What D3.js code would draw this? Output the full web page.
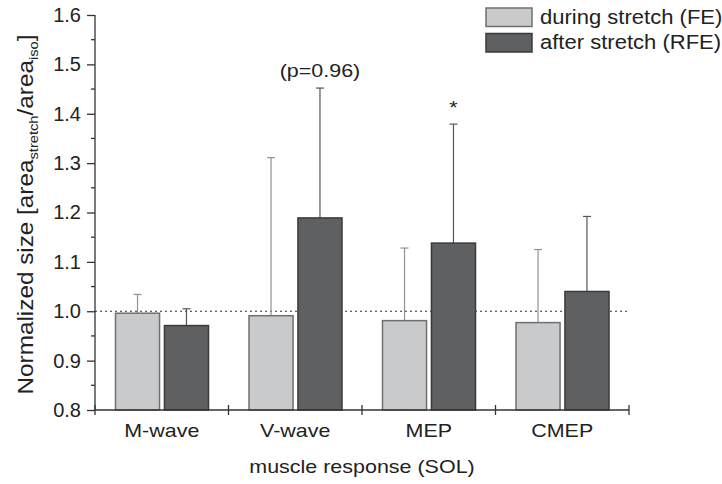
<!DOCTYPE html>
<html><head><meta charset="utf-8">
<script src="https://cdn.jsdelivr.net/npm/d3@7"></script>
<style>body{margin:0;background:#fff}svg{display:block}text{font-family:"Liberation Sans",Arial,sans-serif;fill:#222}</style>
</head><body><svg id="c" width="722" height="484"></svg>
<script>
const categories = ["M-wave","V-wave","MEP","CMEP"];
const seriesNames = ["during stretch (FE)","after stretch (RFE)"];
const feValues = [0.996, 0.991, 0.981, 0.977];
const feErrors = [0.038, 0.320, 0.147, 0.148];
const rfeValues = [0.971, 1.189, 1.138, 1.040];
const rfeErrors = [0.034, 0.263, 0.241, 0.152];
const yTicks = [0.8,0.9,1.0,1.1,1.2,1.3,1.4,1.5,1.6];
const annotations = [{cat:"V-wave", s:1, text:"(p=0.96)"},{cat:"MEP", s:1, text:"*"}];

const svg = d3.select("#c");
const L=95, R=629, T=15, B=410;
const SX=1.13;
const x = d3.scaleBand().domain(categories).range([L,R]).padding(0);
const xi = d3.scaleBand().domain([0,1]).range([20.5,113.5]).paddingInner(0.1);
const y = d3.scaleLinear().domain([0.8,1.6]).range([B,T]);
const fills=["#c9cacc","#5f6062"], strokes=["#707070","#3a3a3a"], errCol=["#929292","#555"];
const series=[{v:feValues,e:feErrors},{v:rfeValues,e:rfeErrors}];

function label(px,py,str,size,anchor,rot){
  const g=svg.append("g").attr("transform",`translate(${px},${py})`+(rot?` rotate(${rot})`:""));
  return g.append("text").attr("transform",`scale(${SX},1)`).attr("text-anchor",anchor||"middle")
    .attr("font-size",size).text(str);
}

// reference dotted line
svg.append("line").attr("x1",L).attr("x2",R).attr("y1",y(1)).attr("y2",y(1))
  .attr("stroke","#333").attr("stroke-width",1.2).attr("stroke-dasharray","2,3");

series.forEach((s,si)=>{
  const g=svg.append("g");
  categories.forEach((c,i)=>{
    const bx=x(c)+xi(si), bw=xi.bandwidth(), cx=bx+bw/2;
    const top=y(s.v[i]+s.e[i]);
    g.append("line").attr("x1",cx).attr("x2",cx).attr("y1",y(s.v[i])).attr("y2",top).attr("stroke",errCol[si]).attr("stroke-width",1.2);
    g.append("line").attr("x1",cx-4).attr("x2",cx+4).attr("y1",top).attr("y2",top).attr("stroke",errCol[si]).attr("stroke-width",1.2);
    g.append("rect").attr("x",bx).attr("y",y(s.v[i])).attr("width",bw).attr("height",B-y(s.v[i]))
      .attr("fill",fills[si]).attr("stroke",strokes[si]).attr("stroke-width",1.5);
  });
});

// y axis
const ya=svg.append("g").attr("transform",`translate(${L},0)`)
  .call(d3.axisLeft(y).tickValues(yTicks).tickFormat(d3.format(".1f")).tickSize(8).tickPadding(6));
ya.select(".domain").attr("stroke","#333").attr("stroke-width",1.3).attr("d",`M0,${T}V${B}`);
ya.selectAll(".tick line").attr("stroke","#333").attr("stroke-width",1.3);
ya.selectAll(".tick text").attr("font-size",20).style("fill","#222");
const minor=d3.range(0.85,1.6,0.1);
svg.append("g").selectAll("line").data(minor).join("line")
  .attr("x1",L-4).attr("x2",L).attr("y1",d=>y(d)).attr("y2",d=>y(d)).attr("stroke","#333").attr("stroke-width",1.3);

// x axis
svg.append("line").attr("x1",L).attr("x2",R).attr("y1",B).attr("y2",B).attr("stroke","#333").attr("stroke-width",1.3);
const xt=[...categories.map(c=>x(c)), R];
svg.append("g").selectAll("line").data(xt).join("line")
  .attr("x1",d=>d).attr("x2",d=>d).attr("y1",B-5).attr("y2",B+5).attr("stroke","#333").attr("stroke-width",1.3);
categories.forEach(c=>label(x(c)+x.bandwidth()/2,437,c,19));

label((L+R)/2,473,"muscle response (SOL)",19);

const yl=label(33,(T+B)/2+2,"",21.5,"middle",-90);
yl.append("tspan").text("Normalized size [area");
yl.append("tspan").attr("font-size",13).attr("dy",5).text("stretch");
yl.append("tspan").attr("dy",-5).text("/area");
yl.append("tspan").attr("font-size",13).attr("dy",5).text("iso");
yl.append("tspan").attr("dy",-5).text("]");

// annotations
annotations.forEach(a=>{
  const i=categories.indexOf(a.cat);
  const s=series[a.s];
  const cx=x(a.cat)+xi(a.s)+xi.bandwidth()/2;
  const top=y(s.v[i]+s.e[i]);
  label(cx,a.text==="*"?top-10:top-11,a.text,19);
});

// legend
seriesNames.forEach((n,i)=>{
  svg.append("rect").attr("x",486).attr("y",8+i*25.5).attr("width",46).attr("height",18.5)
    .attr("fill",fills[i]).attr("stroke",strokes[i]).attr("stroke-width",1.5);
  label(540,23.5+i*25.5,n,19.5,"start");
});
</script></body></html>
